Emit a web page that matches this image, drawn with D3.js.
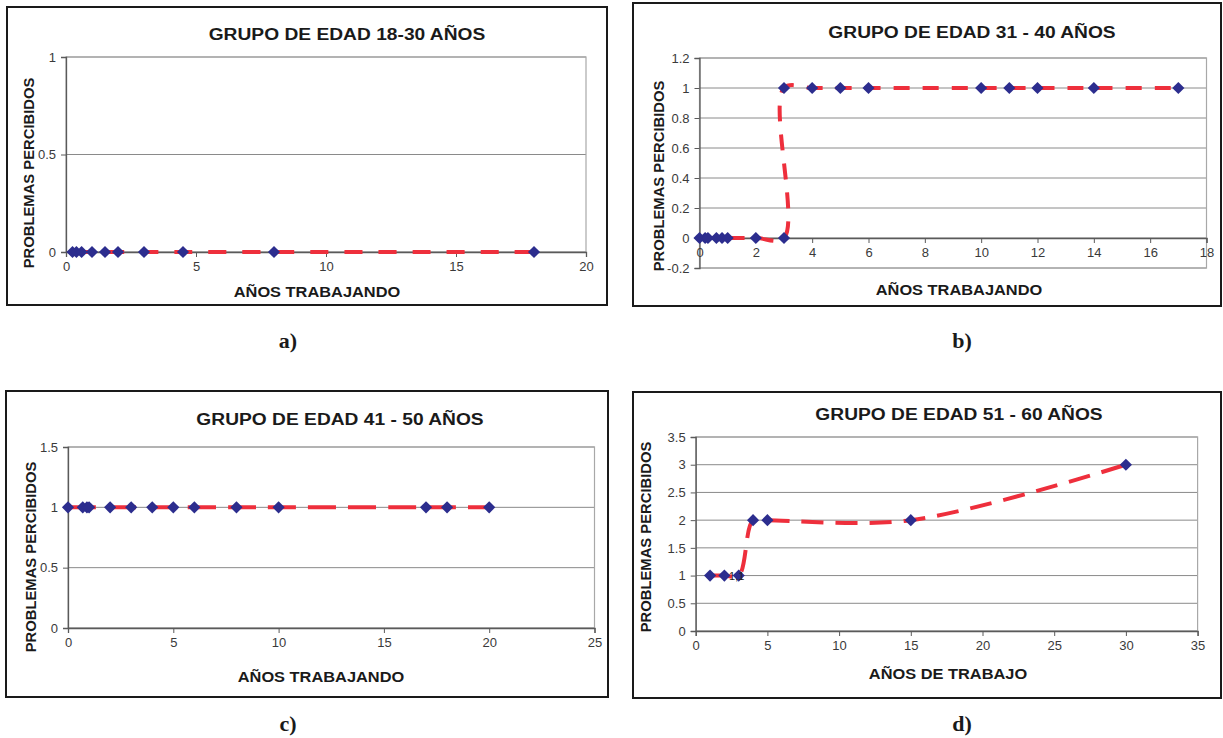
<!DOCTYPE html>
<html>
<head>
<meta charset="utf-8">
<script src="https://cdn.jsdelivr.net/npm/d3@7"></script>
<style>
    body { margin: 0; background: #fff; }
    svg { display: block; }
</style>
</head>
<body>
<div id="chart"></div>
<script>

// a) grupo 18-30
const aYears    = [0.25, 0.4, 0.6, 1, 1.5, 2, 3, 4.5, 8, 18];
const aProblems = [0, 0, 0, 0, 0, 0, 0, 0, 0, 0];

// b) grupo 31-40
const bYears    = [0, 0.2, 0.3, 0.6, 0.8, 1, 2, 3, 3, 4, 5, 6, 10, 11, 12, 14, 17];
const bProblems = [0, 0, 0, 0, 0, 0, 0, 0, 1, 1, 1, 1, 1, 1, 1, 1, 1];

// c) grupo 41-50
const cYears    = [0, 0.7, 0.9, 1, 2, 3, 4, 5, 6, 8, 10, 17, 18, 20];
const cProblems = [1, 1, 1, 1, 1, 1, 1, 1, 1, 1, 1, 1, 1, 1];

// d) grupo 51-60
const dYears    = [1, 2, 3, 4, 5, 15, 30];
const dProblems = [1, 1, 1, 2, 2, 2, 3];
const dPointLabel = "1,1";

// tick labels
const aXTicks = [0, 5, 10, 15, 20];
const aYTicks = [0, 0.5, 1];
const bXTicks = [0, 2, 4, 6, 8, 10, 12, 14, 16, 18];
const bYTicks = [-0.2, 0, 0.2, 0.4, 0.6, 0.8, 1, 1.2];
const cXTicks = [0, 5, 10, 15, 20, 25];
const cYTicks = [0, 0.5, 1, 1.5];
const dXTicks = [0, 5, 10, 15, 20, 25, 30, 35];
const dYTicks = [0, 0.5, 1, 1.5, 2, 2.5, 3, 3.5];

// texts
const titles   = ["GRUPO DE EDAD 18-30 AÑOS", "GRUPO DE EDAD 31 - 40 AÑOS",
                  "GRUPO DE EDAD 41 - 50 AÑOS", "GRUPO DE EDAD 51 - 60 AÑOS"];
const xTitles  = ["AÑOS TRABAJANDO", "AÑOS TRABAJANDO", "AÑOS TRABAJANDO", "AÑOS DE TRABAJO"];
const yTitle   = "PROBLEMAS PERCIBIDOS";
const captions = ["a)", "b)", "c)", "d)"];

const W = 1223, H = 738;
const sans = "'Liberation Sans', Arial, sans-serif";
const lineColor = "#ee2f3c";
const markColor = "#2c2d8e";
// the scanned charts are a bit wider than tall
const stretch = 1.13;

let svg = d3.select("#chart").append("svg")
    .attr("width", W)
    .attr("height", H);

// layout of every panel (frame, plot area, text anchors)
let panels = [
    {xs: aYears, ys: aProblems, xTicks: aXTicks, yTicks: aYTicks,
     frame: {x: 7, y: 7, w: 600, h: 298},
     plot: {l: 66, r: 586, t: 57, b: 252},
     title: [347, 34], xt: [317, 292], yt: [29, 173], cap: [288, 340],
     dash: "18,16"},
    {xs: bYears, ys: bProblems, xTicks: bXTicks, yTicks: bYTicks,
     frame: {x: 633, y: 3, w: 588, h: 303},
     plot: {l: 699.5, r: 1206.5, t: 58, b: 268},
     title: [972, 32], xt: [959, 290], yt: [659, 176], cap: [962, 340],
     dash: "16,13", xAxisAtZero: true},
    {xs: cYears, ys: cProblems, xTicks: cXTicks, yTicks: cYTicks,
     frame: {x: 6, y: 391, w: 602, h: 306},
     plot: {l: 68, r: 594.5, t: 447, b: 628},
     title: [340, 419], xt: [321, 677], yt: [31, 557], cap: [288, 723],
     dash: "28,12"},
    {xs: dYears, ys: dProblems, xTicks: dXTicks, yTicks: dYTicks,
     frame: {x: 633, y: 392, w: 588, h: 306},
     plot: {l: 695.7, r: 1197.6, t: 437, b: 631},
     title: [959, 414], xt: [948, 674], yt: [646, 537], cap: [962, 723],
     dash: "22,12", label: dPointLabel}
];

panels.forEach((p, i) => drawPanel(p, i));

function drawPanel(p, i) {
    let g = svg.append("g");

    // outer frame
    g.append("rect")
        .attr("x", p.frame.x).attr("y", p.frame.y)
        .attr("width", p.frame.w).attr("height", p.frame.h)
        .attr("fill", "#fff")
        .attr("stroke", "#1a1a1a")
        .attr("stroke-width", 2);

    let x = d3.scaleLinear()
        .domain(d3.extent(p.xTicks))
        .range([p.plot.l, p.plot.r]);
    let y = d3.scaleLinear()
        .domain(d3.extent(p.yTicks))
        .range([p.plot.b, p.plot.t]);

    // grid lines
    g.selectAll(".grid")
        .data(p.yTicks)
        .enter().append("line")
        .attr("x1", p.plot.l).attr("x2", p.plot.r)
        .attr("y1", d => y(d)).attr("y2", d => y(d))
        .attr("stroke", "#8a8a8a")
        .attr("stroke-width", 1);

    // plot area border
    g.append("rect")
        .attr("x", p.plot.l).attr("y", p.plot.t)
        .attr("width", p.plot.r - p.plot.l)
        .attr("height", p.plot.b - p.plot.t)
        .attr("fill", "none")
        .attr("stroke", "#a8a8a8")
        .attr("stroke-width", 1.2);

    // axes
    let yAxis = g.append("g")
        .attr("transform", `translate(${p.plot.l},0)`)
        .call(d3.axisLeft(y).tickValues(p.yTicks).tickSize(5).tickPadding(5)
            .tickFormat(d => String(+d.toFixed(2))));

    let xPos = p.xAxisAtZero ? y(0) : p.plot.b;
    let xAxis = g.append("g")
        .attr("transform", `translate(0,${xPos})`)
        .call(d3.axisBottom(x).tickValues(p.xTicks).tickSize(5).tickPadding(5));

    [yAxis, xAxis].forEach(a => {
        a.select(".domain").attr("stroke", "#5a5a5a").attr("stroke-width", 1.3);
        a.selectAll(".tick line").attr("stroke", "#5a5a5a");
        a.selectAll(".tick text")
            .attr("fill", "#3a3a3a")
            .attr("font-family", sans)
            .attr("font-size", "13px");
    });

    // smooth dashed line
    let pts = p.xs.map((d, k) => [d, p.ys[k]]);
    let line = d3.line()
        .x(d => x(d[0]))
        .y(d => y(d[1]))
        .curve(d3.curveCatmullRom.alpha(0.5));

    g.append("path")
        .datum(pts)
        .attr("d", line)
        .attr("fill", "none")
        .attr("stroke", lineColor)
        .attr("stroke-width", 4)
        .attr("stroke-dasharray", p.dash);

    // diamond markers
    g.selectAll(".mark")
        .data(pts)
        .enter().append("path")
        .attr("d", d3.symbol(d3.symbolSquare, 74)())
        .attr("transform", d => `translate(${x(d[0])},${y(d[1])}) rotate(45)`)
        .attr("fill", markColor);

    if (p.label) {
        let third = pts[2];
        g.append("text")
            .attr("x", x(third[0]) - 2)
            .attr("y", y(third[1]) + 4)
            .attr("text-anchor", "middle")
            .attr("font-family", sans)
            .attr("font-size", "11px")
            .attr("fill", "#222")
            .text(p.label);
    }

    // titles
    g.append("text")
        .attr("transform", `translate(${p.title[0]},${p.title[1]}) scale(${stretch},1)`)
        .attr("text-anchor", "middle")
        .attr("dominant-baseline", "central")
        .attr("font-family", sans)
        .attr("font-weight", "bold")
        .attr("font-size", "17px")
        .attr("fill", "#1a1a1a")
        .text(titles[i]);

    g.append("text")
        .attr("transform", `translate(${p.xt[0]},${p.xt[1]}) scale(${stretch},1)`)
        .attr("text-anchor", "middle")
        .attr("dominant-baseline", "central")
        .attr("font-family", sans)
        .attr("font-weight", "bold")
        .attr("font-size", "14.5px")
        .attr("fill", "#1a1a1a")
        .text(xTitles[i]);

    g.append("text")
        .attr("transform", `translate(${p.yt[0]},${p.yt[1]}) rotate(-90)`)
        .attr("text-anchor", "middle")
        .attr("dominant-baseline", "central")
        .attr("font-family", sans)
        .attr("font-weight", "bold")
        .attr("font-size", "14.8px")
        .attr("fill", "#1a1a1a")
        .text(yTitle);

    // caption under the panel
    svg.append("text")
        .attr("x", p.cap[0]).attr("y", p.cap[1])
        .attr("text-anchor", "middle")
        .attr("dominant-baseline", "central")
        .attr("font-family", "'Liberation Serif', 'DejaVu Serif', serif")
        .attr("font-weight", "bold")
        .attr("font-size", "22px")
        .attr("fill", "#1a1a1a")
        .text(captions[i]);
}

</script>
</body>
</html>
